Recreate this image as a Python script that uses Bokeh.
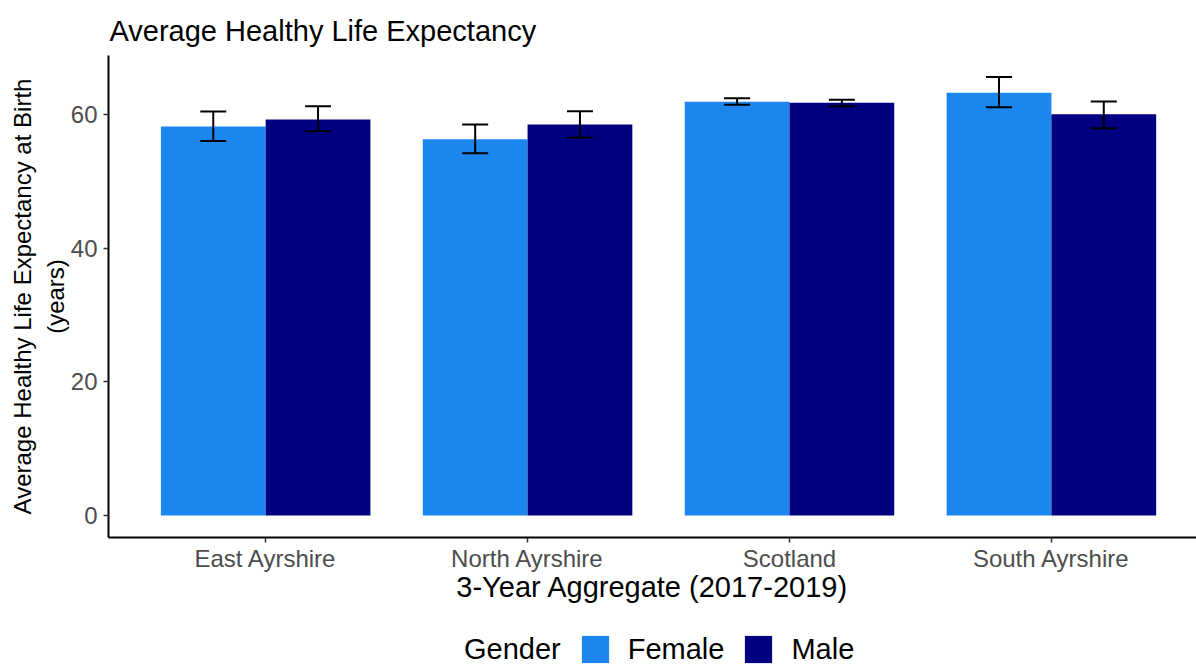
from bokeh.plotting import figure
from bokeh.layouts import column
from bokeh.models import ColumnDataSource, Range1d, Whisker, TeeHead, Legend, LegendItem, FixedTicker
from bokeh.embed import file_html
from bokeh.resources import INLINE

regions = ["East Ayrshire", "North Ayrshire", "Scotland", "South Ayrshire"]
female = [58.2, 56.3, 61.9, 63.25]
female_lower = [56.05, 54.2, 61.45, 61.1]
female_upper = [60.45, 58.5, 62.45, 65.6]
male = [59.25, 58.5, 61.75, 60.05]
male_lower = [57.5, 56.55, 61.25, 57.95]
male_upper = [61.25, 60.5, 62.2, 61.95]
y_ticks = [0, 20, 40, 60]
legend_title = "Gender"
legend_labels = ["Female", "Male"]

FONT = "Liberation Sans"
FEMALE_COLOR = "#1C86EE"
MALE_COLOR = "#000080"
DODGE = 0.2
BAR_W = 0.4

idx = list(range(1, len(regions) + 1))
src_f = ColumnDataSource(dict(x=[i - DODGE for i in idx], top=female, lower=female_lower, upper=female_upper))
src_m = ColumnDataSource(dict(x=[i + DODGE for i in idx], top=male, lower=male_lower, upper=male_upper))

p = figure(width=1196, height=610, output_backend="svg", toolbar_location=None,
           x_range=Range1d(0.4, 4.554), y_range=Range1d(-3.29, 68.83),
           title="Average Healthy Life Expectancy")
p.min_border_left = 108
p.min_border_right = 0
p.min_border_top = 55
p.min_border_bottom = 73
p.outline_line_color = None
p.background_fill_color = "white"
p.border_fill_color = "white"

p.title.text_font = FONT
p.title.text_font_size = "29px"
p.title.text_font_style = "normal"
p.title.text_color = "black"
p.title.align = "left"
p.title.offset = 1
p.title.standoff = 18

p.vbar(x="x", top="top", bottom=0, width=BAR_W, source=src_f, fill_color=FEMALE_COLOR, line_color=None)
p.vbar(x="x", top="top", bottom=0, width=BAR_W, source=src_m, fill_color=MALE_COLOR, line_color=None)

for src in (src_f, src_m):
    w = Whisker(base="x", upper="upper", lower="lower", source=src, dimension="height",
                line_color="black", line_width=2, level="overlay",
                upper_head=TeeHead(size=26, line_color="black", line_width=2),
                lower_head=TeeHead(size=26, line_color="black", line_width=2))
    p.add_layout(w)

p.xgrid.visible = False
p.ygrid.visible = False

for ax in (p.xaxis[0], p.yaxis[0]):
    ax.axis_line_color = "black"
    ax.axis_line_width = 2
    ax.major_tick_line_color = "#333333"
    ax.major_tick_line_width = 1.5
    ax.major_tick_out = 5
    ax.major_tick_in = 0
    ax.minor_tick_line_color = None
    ax.major_label_text_font = FONT
    ax.major_label_text_font_size = "24px"
    ax.major_label_text_color = "#4D4D4D"
    ax.axis_label_text_font = FONT
    ax.axis_label_text_font_style = "normal"
    ax.axis_label_text_color = "black"

p.xaxis.ticker = FixedTicker(ticks=idx)
p.xaxis.major_label_overrides = {i: r for i, r in zip(idx, regions)}
p.xaxis.axis_label = "3-Year Aggregate (2017-2019)"
p.xaxis.axis_label_text_font_size = "29px"
p.xaxis.axis_label_standoff = -4
p.xaxis.major_label_standoff = 2

p.yaxis.ticker = FixedTicker(ticks=y_ticks)
p.yaxis.axis_label = "Average Healthy Life Expectancy at Birth\n(years)"
p.yaxis.axis_label_text_font_size = "24px"
p.yaxis.axis_label_standoff = -1
p.yaxis.major_label_standoff = 6

# legend strip below the chart (swatch carriers sit outside the visible range)
lg = figure(width=1196, height=54, output_backend="svg", toolbar_location=None,
            x_range=Range1d(0, 1), y_range=Range1d(0, 1), min_border=0)
lg.axis.visible = False
lg.grid.visible = False
lg.outline_line_color = None
lg.background_fill_color = "white"
lg.border_fill_color = "white"
swatch = ColumnDataSource(dict(x=[-5], top=[-5]))
r_head = lg.vbar(x="x", top="top", bottom=-6, width=0.1, source=swatch, fill_alpha=0, line_alpha=0)
r_f = lg.vbar(x="x", top="top", bottom=-6, width=0.1, source=swatch, fill_color=FEMALE_COLOR, line_color=None)
r_m = lg.vbar(x="x", top="top", bottom=-6, width=0.1, source=swatch, fill_color=MALE_COLOR, line_color=None)

legend = Legend(items=[LegendItem(label=legend_title, renderers=[r_head]),
                       LegendItem(label=legend_labels[0], renderers=[r_f]),
                       LegendItem(label=legend_labels[1], renderers=[r_m])],
                orientation="horizontal", location=(306, -2))
legend.label_text_font = FONT
legend.label_text_font_size = "29px"
legend.label_text_color = "black"
legend.glyph_width = 34
legend.glyph_height = 34
legend.label_standoff = 16
legend.spacing = 17
legend.border_line_color = None
legend.background_fill_alpha = 0
legend.padding = 0
legend.margin = 0
lg.add_layout(legend, "center")

layout = column(p, lg, spacing=0)
open("out.html", "w").write(file_html(layout, INLINE))
